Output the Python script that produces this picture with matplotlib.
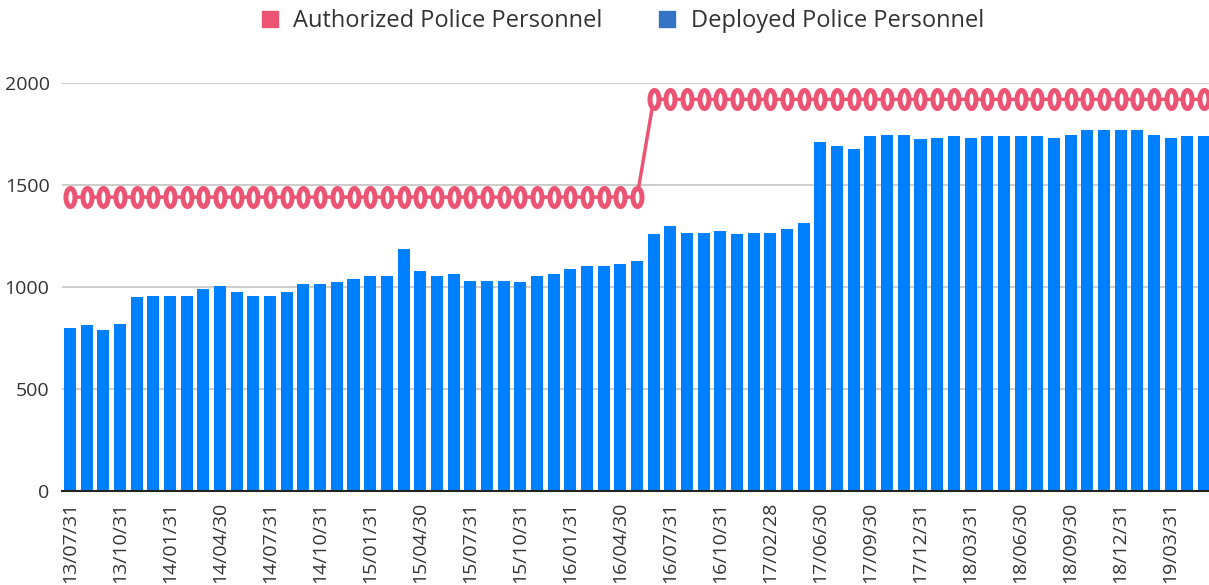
import matplotlib
matplotlib.use("Agg")
import matplotlib.pyplot as plt
from matplotlib.path import Path
from matplotlib.lines import Line2D
import numpy as np

plt.rcParams['font.family'] = ['Open Sans', 'DejaVu Sans']

deployed = [800, 810, 790, 815, 948, 953, 953, 953, 987, 1002,
            973, 953, 953, 973, 1012, 1012, 1022, 1037, 1052, 1052,
            1185, 1077, 1052, 1062, 1027, 1027, 1027, 1022, 1052, 1062,
            1086, 1101, 1101, 1111, 1126, 1259, 1298, 1264, 1264, 1274,
            1259, 1264, 1264, 1284, 1313, 1708, 1693, 1678, 1742, 1747,
            1747, 1727, 1732, 1742, 1732, 1742, 1742, 1742, 1742, 1732,
            1747, 1767, 1767, 1767, 1767, 1747, 1732, 1742, 1742]
authorized = [1440] * 35 + [1920] * 34
tick_labels = ["13/07/31", "13/10/31", "14/01/31", "14/04/30", "14/07/31",
               "14/10/31", "15/01/31", "15/04/30", "15/07/31", "15/10/31",
               "16/01/31", "16/04/30", "16/07/31", "16/10/31", "17/02/28",
               "17/06/30", "17/09/30", "17/12/31", "18/03/31", "18/06/30",
               "18/09/30", "18/12/31", "19/03/31"]

BLUE = "#0080FF"
LEGEND_BLUE = "#3374C4"
PINK = "#EC5473"
TEXT = "#333333"

fig = plt.figure(figsize=(12.09, 5.85), dpi=100)
ax = fig.add_axes([62 / 1209, 1 - 490.5 / 585, 1 - 62 / 1209, (490.5 - 83) / 585])

x = np.arange(len(deployed))
ax.bar(x, deployed, width=0.72, color=BLUE, zorder=2)

# tall ellipse marker, like the squeezed rings in the original
t = np.linspace(0, 2 * np.pi, 60)
ell = Path(np.column_stack([0.5 * np.cos(t), np.sin(t)]))
ax.plot(x, authorized, color=PINK, lw=2.5, marker=ell, markersize=13,
        markerfacecolor="white", markeredgecolor=PINK, markeredgewidth=3.6,
        zorder=3, clip_on=False)

ax.set_xlim(-0.48, 68.3)
ax.set_ylim(0, 2000)
ax.set_yticks([0, 500, 1000, 1500, 2000])
ax.grid(axis="y", color="#c8c8c8", lw=1.3, zorder=0)
ax.set_axisbelow(True)
ax.set_xticks(x[::3])
ax.set_xticklabels(tick_labels, rotation=90, ha="center", va="top")
ax.tick_params(axis="both", length=0, labelsize=14, colors=TEXT)
ax.tick_params(axis="y", pad=9)
ax.tick_params(axis="x", pad=8)
for s in ["top", "right", "left"]:
    ax.spines[s].set_visible(False)
ax.spines["bottom"].set_color("#222222")
ax.spines["bottom"].set_linewidth(1.5)
ax.spines["bottom"].set_zorder(4)

handles = [Line2D([], [], ls="none", marker="s", markersize=11, color=PINK),
           Line2D([], [], ls="none", marker="s", markersize=11, color=LEGEND_BLUE)]
fig.legend(handles, ["Authorized Police Personnel", "Deployed Police Personnel"],
           loc="center", bbox_to_anchor=(0.515, 1 - 21 / 585), ncol=2, frameon=False,
           fontsize=17, handlelength=0.7, handletextpad=0.64, columnspacing=2.4,
           labelcolor=TEXT)

fig.savefig("out.png", dpi=100)
